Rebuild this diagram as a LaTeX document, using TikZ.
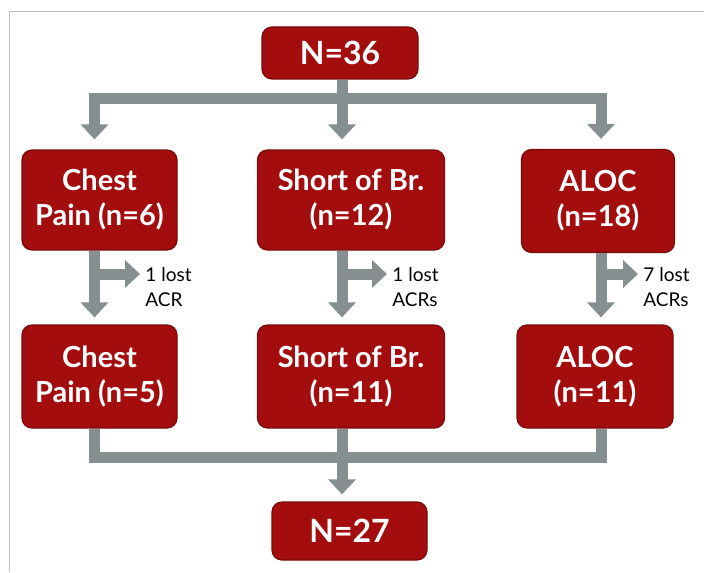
\documentclass[tikz,border=0pt]{standalone}
\usepackage{fontspec}
\setmainfont{Lato}
\usetikzlibrary{arrows.meta}
\definecolor{boxred}{RGB}{163,13,13}
\definecolor{boxedge}{RGB}{120,10,10}
\definecolor{pipegray}{RGB}{134,143,143}
\definecolor{framegray}{RGB}{190,190,190}
\tikzset{redbox/.style={draw=boxedge, line width=0.6pt, fill=boxred, rounded corners=5pt, text=white, align=center, inner sep=0pt, font=\fontsize{14.5}{17.5}\selectfont\bfseries},
  nbox/.style={redbox, font=\fontsize{16}{18}\selectfont\bfseries},
  pipe/.style={draw=pipegray, line width=5.5pt},
  pipearrow/.style={pipe, -{Triangle[width=13.5pt,length=7.5pt]}},
  losstext/.style={anchor=west, align=left, inner sep=0pt, font=\fontsize{9.5}{12.5}\selectfont}}

\begin{document}
\begin{tikzpicture}[x=0.5pt,y=-0.5pt]
\useasboundingbox (0,0) rectangle (704,572);
\draw[framegray, line width=0.75pt] (704,11.5)--(9.5,11.5)--(9.5,572);

\node[nbox, minimum width=78pt, minimum height=26pt] (n36) at (340,53) {N=36};
\node[redbox, minimum width=77.5pt, minimum height=50pt] (cp1) at (99.5,200) {Chest\\Pain (n=6)};
\node[redbox, minimum width=93.5pt, minimum height=50pt] (sb1) at (351,200) {Short of Br.\\(n=12)};
\node[redbox, minimum width=76.5pt, minimum height=51.5pt] (al1) at (598,201) {ALOC\\(n=18)};
\node[redbox, minimum width=77.5pt, minimum height=51.5pt] (cp2) at (99.5,376.5) {Chest\\Pain (n=5)};
\node[redbox, minimum width=93.5pt, minimum height=51.5pt] (sb2) at (351,376.5) {Short of Br.\\(n=11)};
\node[redbox, minimum width=78pt, minimum height=51.5pt] (al2) at (595,376.5) {ALOC\\(n=11)};
\node[nbox, minimum width=77.5pt, minimum height=29pt] (n27) at (349.5,531) {N=27};

\node[losstext] (lossA) at (145,287) {1 lost\\ACR};
\node[losstext] (lossB) at (392,287) {1 lost\\ACRs};
\node[losstext] (lossC) at (643,287) {7 lost\\ACRs};

\coordinate (colA) at (94.5,0);
\coordinate (colB) at (342,0);
\coordinate (colC) at (601,0);
\coordinate (topbar) at (0,99);
\coordinate (branch) at (0,274);
\coordinate (botbar) at (0,457);

\draw[pipe, {Triangle[width=13.5pt,length=7.5pt]}-{Triangle[width=13.5pt,length=7.5pt]}, shorten <=5pt, shorten >=5pt] (cp1.north -| colA)--(colA |- topbar)--(colC |- topbar)--(al1.north -| colC);
\draw[pipearrow, shorten >=5pt] (n36.south -| colB)--(sb1.north -| colB);

\draw[pipearrow, shorten >=3.5pt] (cp1.south -| colA)--(cp2.north -| colA);
\draw[pipearrow, shorten >=3.5pt] (sb1.south -| colB)--(sb2.north -| colB);
\draw[pipearrow, shorten >=3.5pt] (al1.south -| colC)--(al2.north -| colC);
\draw[pipearrow, shorten >=2.5pt] (colA |- branch)--(lossA.west |- branch);
\draw[pipearrow, shorten >=2.5pt] (colB |- branch)--(lossB.west |- branch);
\draw[pipearrow, shorten >=2.5pt] (colC |- branch)--(lossC.west |- branch);

\draw[pipe] (cp2.south -| colA)--(colA |- botbar)--(colC |- botbar)--(al2.south -| colC);
\draw[pipearrow, shorten >=3.5pt] (sb2.south -| colB)--(n27.north -| colB);
\end{tikzpicture}
\end{document}
